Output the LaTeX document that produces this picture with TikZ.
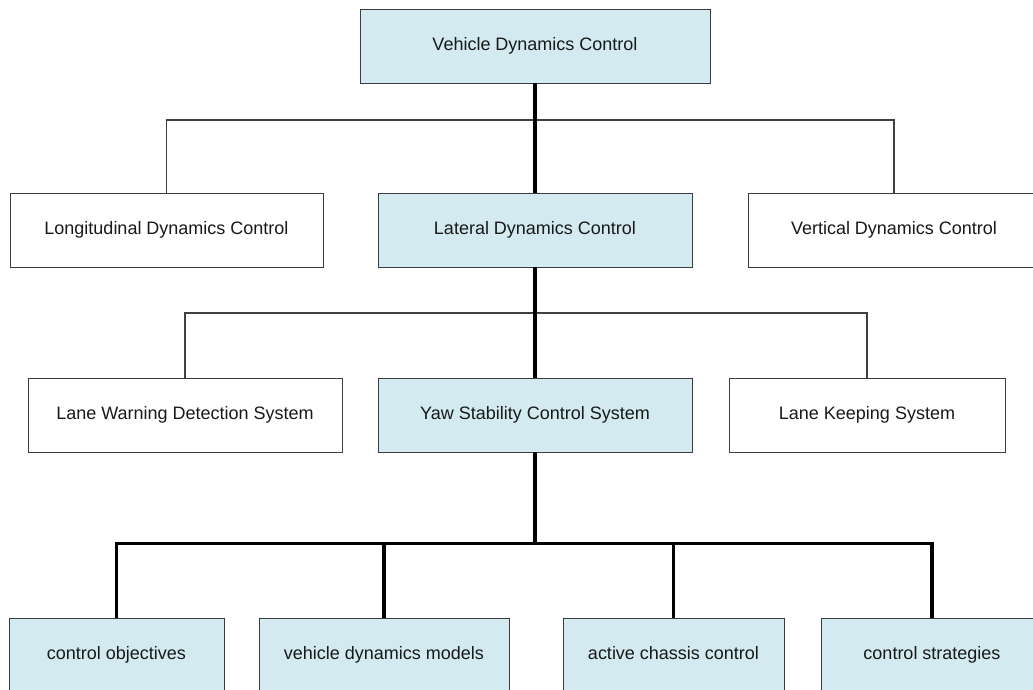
\documentclass[tikz,border=0pt]{standalone}
\usepackage{fontspec}
\setmainfont{Liberation Sans}
\usetikzlibrary{positioning, calc}
\definecolor{boxblue}{RGB}{210,234,240}
\definecolor{boxline}{RGB}{60,60,60}

\begin{document}
\begin{tikzpicture}[every node/.style={font=\fontsize{12.8}{15}\selectfont, text=black!90},
		plainbox/.style={draw=boxline, line width=0.7pt, fill=white, minimum height=1.85cm, inner sep=0pt, text height=1.6ex, text depth=0.45ex},
		bluebox/.style={plainbox, fill=boxblue},
		thinlink/.style={draw=black!75, line width=0.75pt},
		thicklink/.style={draw=black, line width=2.2pt}]
		\useasboundingbox (0,0) rectangle (25.825,-17.225);
		% top level
		\node[bluebox, minimum width=8.75cm] (vdc) at (13.375,-1.15) {Vehicle Dynamics Control};
		% second level
		\node[plainbox, minimum width=7.825cm] (ldc) at (4.1625,-5.75) {Longitudinal Dynamics Control};
		\node[bluebox, minimum width=7.85cm] (lat) at (13.375,-5.75) {Lateral Dynamics Control};
		\node[plainbox, minimum width=7.3cm] (vert) at (22.35,-5.75) {Vertical Dynamics Control};
		% third level
		\node[plainbox, minimum width=7.85cm] (lwds) at (4.625,-10.375) {Lane Warning Detection System};
		\node[bluebox, minimum width=7.85cm] (yaw) at (13.375,-10.375) {Yaw Stability Control System};
		\node[plainbox, minimum width=6.9cm] (lks) at (21.675,-10.375) {Lane Keeping System};
		% fourth level
		\node[bluebox, minimum width=5.375cm] (obj) at (2.9125,-16.375) {control objectives};
		\node[bluebox, minimum width=6.25cm] (models) at (9.6,-16.375) {vehicle dynamics models};
		\node[bluebox, minimum width=5.525cm] (chassis) at (16.8375,-16.375) {active chassis control};
		\node[bluebox, minimum width=5.55cm] (strat) at (23.3,-16.375) {control strategies};
		% bus points
		\coordinate (busA) at (13.375,-3.0);
		\coordinate (busB) at (13.375,-7.825);
		\coordinate (busC) at (13.375,-13.5875);
		% connectors
		\draw[thinlink] (ldc.north) |- (busA) -| (vert.north);
		\draw[thinlink] (lwds.north) |- (busB) -| (lks.north);
		\draw[thicklink] (vdc.south) -- (lat.north);
		\draw[thicklink] (lat.south) -- (yaw.north);
		\draw[thicklink] (yaw.south) -- (busC);
		\draw[thicklink] (obj.north) |- (busC) -| (strat.north);
		\draw[thicklink] (models.north) -- (models.north |- busC);
		\draw[thicklink] (chassis.north) -- (chassis.north |- busC);
	\end{tikzpicture}
\end{document}
